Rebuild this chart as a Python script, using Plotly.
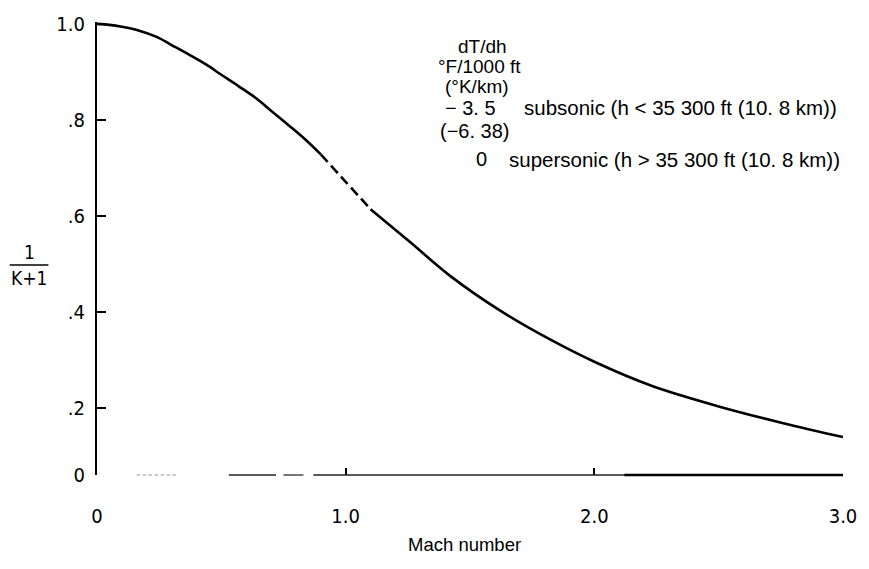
import plotly.graph_objects as go

# ---- data ----
mach_sub = [0.0, 0.05, 0.10, 0.17, 0.24, 0.30, 0.37, 0.44, 0.50, 0.57, 0.64, 0.70, 0.77, 0.84, 0.90]
y_sub = [1.0, 0.998, 0.994, 0.986, 0.973, 0.956, 0.936, 0.915, 0.894, 0.870, 0.845, 0.819, 0.789, 0.758, 0.728]

mach_trans = [0.90, 1.00, 1.10]
y_trans = [0.728, 0.671, 0.614]

mach_sup = [1.10, 1.26, 1.42, 1.62, 1.82, 2.00, 2.23, 2.50, 2.76, 3.00]
y_sup = [0.614, 0.545, 0.475, 0.403, 0.343, 0.296, 0.246, 0.203, 0.168, 0.139]

x_tickvals = [0, 1, 2, 3]
x_ticktext = ["0", "1.0", "2.0", "3.0"]
y_tickvals = [0.06, 0.2, 0.4, 0.6, 0.8, 1.0]
y_ticktext = ["0", ".2", ".4", ".6", ".8", "1.0"]

# ---- layout geometry (pixels) ----
W, H = 869, 569
L, R, T, B = 97, 20, 20, 94
PW, PH = W - L - R, H - T - B


def px(x):
    return (x - L) / PW


def py(y):
    return (H - B - y) / PH


FONT = "Liberation Sans, Arial, sans-serif"
NARROW = "DejaVu Sans Condensed, Liberation Sans Narrow, Liberation Sans, sans-serif"

fig = go.Figure()
line_style = dict(color="black", width=2.6)
fig.add_trace(go.Scatter(x=mach_sub, y=y_sub, mode="lines", line=dict(**line_style, shape="spline"),
                         cliponaxis=False, showlegend=False))
fig.add_trace(go.Scatter(x=mach_trans, y=y_trans, mode="lines",
                         line=dict(**line_style, shape="spline", dash="10px,5px"),
                         cliponaxis=False, showlegend=False))
fig.add_trace(go.Scatter(x=mach_sup, y=y_sup, mode="lines", line=dict(**line_style, shape="spline"),
                         cliponaxis=False, showlegend=False))

# faded x-axis baseline as in the scan
axis_segments = [
    (0.16, 0.32, "#888888", 1.2, "dot"),
    (0.53, 0.72, "#222222", 1.6, "solid"),
    (0.75, 0.83, "#777777", 2.0, "solid"),
    (0.87, 2.12, "#222222", 1.3, "solid"),
    (2.12, 3.0, "#000000", 2.4, "solid"),
]
shapes = []
for x0, x1, c, w, d in axis_segments:
    shapes.append(dict(type="line", xref="x", yref="paper", x0=x0, x1=x1, y0=0, y1=0,
                       line=dict(color=c, width=w, dash=d)))
# fraction bar of the y label
shapes.append(dict(type="line", xref="paper", yref="paper", x0=px(9), x1=px(48), y0=py(264), y1=py(264),
                   line=dict(color="black", width=1.5)))

ann = []


def text(t, x, y, anchor="center", size=19, font=FONT):
    ann.append(dict(text=t, xref="paper", yref="paper", x=px(x), y=py(y), xanchor=anchor, yanchor="middle",
                    showarrow=False, font=dict(family=font, size=size, color="black")))


text("dT/dh", 486, 45)
text("°F/1000 ft", 483, 65)
text("(°K/km)", 480, 85)
text("− 3. 5", 474, 106, size=20)
text("subsonic (h &lt; 35 300 ft (10. 8 km))", 525, 106, anchor="left", size=20.5)
text("(−6. 38)", 478, 129, size=20)
text("0", 485, 158, size=20)
text("supersonic (h &gt; 35 300 ft (10. 8 km))", 510, 158, anchor="left", size=20.5)
text("Mach number", 467, 545, size=18.5)
text("1", 29, 251, size=19, font=NARROW)
text("K+1", 28, 277, size=19, font=NARROW)

fig.update_layout(
    width=W, height=H,
    margin=dict(l=L, r=R, t=T, b=B),
    paper_bgcolor="white", plot_bgcolor="white",
    shapes=shapes, annotations=ann,
    xaxis=dict(range=[0, 3.0], showgrid=False, zeroline=False, showline=False,
               tickvals=x_tickvals, ticktext=x_ticktext, ticks="inside", ticklen=7, tickwidth=2,
               tickcolor="black", ticklabelstandoff=27,
               tickfont=dict(family=NARROW, size=20, color="black")),
    yaxis=dict(range=[0.06, 1.004], showgrid=False, zeroline=False, showline=True, linecolor="black",
               linewidth=2.2, tickvals=y_tickvals, ticktext=y_ticktext, ticks="inside", ticklen=9,
               tickwidth=2, tickcolor="black", ticklabelstandoff=6,
               tickfont=dict(family=NARROW, size=20, color="black")),
)

fig.write_html("out.html")
